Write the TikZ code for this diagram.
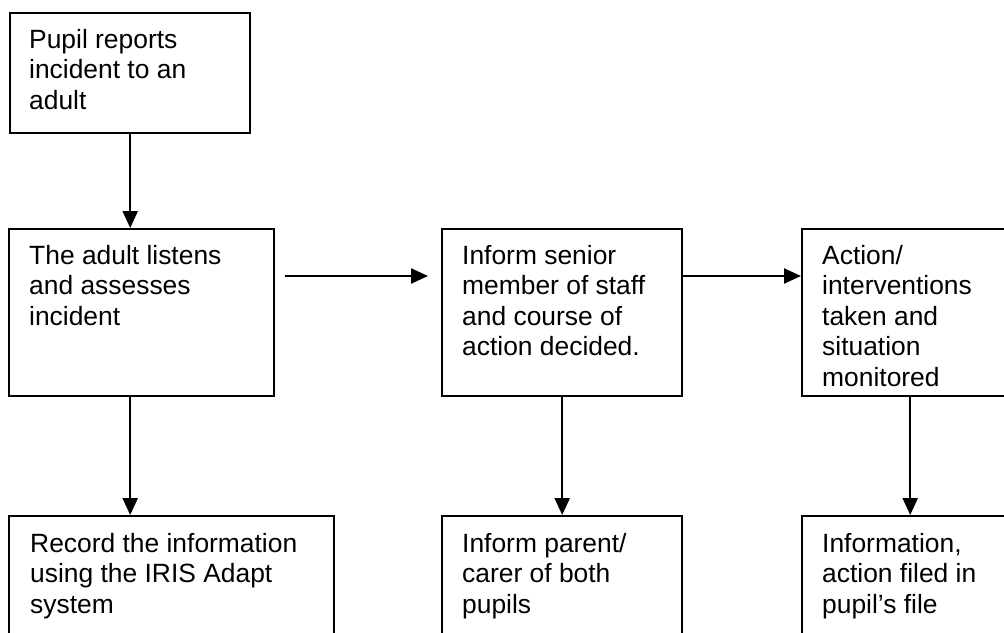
\documentclass[tikz,border=0pt]{standalone}
\usepackage{fontspec}
\setmainfont{Liberation Sans}
\usetikzlibrary{arrows.meta}
\begin{document}
\begin{tikzpicture}[x=1pt,y=-1pt,
  box/.style={draw=black,line width=2.4pt,inner sep=0pt,anchor=north west},
  lbl/.style={inner sep=0pt,anchor=north west,align=left,
    font=\fontsize{26.4}{30.5}\selectfont},
  conn/.style={line width=2.4pt,-{Triangle[length=17pt,width=15pt]}}]
\path[use as bounding box] (0,0) rectangle (1004,632);
\clip (0,0) rectangle (1004,632);
\fill[white] (0,0) rectangle (1004,632);
% boxes
\node[box,minimum width=240pt,minimum height=120pt] (b1) at (9,12) {};
\node[box,minimum width=265pt,minimum height=167pt] (b2) at (8,228) {};
\node[box,minimum width=240pt,minimum height=167pt] (b3) at (441,228) {};
\node[box,minimum width=216pt,minimum height=167pt] (b4) at (801,228) {};
\node[box,minimum width=325pt,minimum height=150pt] (b5) at (8,515) {};
\node[box,minimum width=240pt,minimum height=150pt] (b6) at (441,515) {};
\node[box,minimum width=216pt,minimum height=150pt] (b7) at (801,515) {};
% texts
\node[lbl] (t1) at ([xshift=20pt,yshift=-16pt]b1.north west) {\rule{0pt}{20pt}Pupil reports\\incident to an\\adult};
\node[lbl] (t2) at ([xshift=21pt,yshift=-16pt]b2.north west) {\rule{0pt}{20pt}The adult listens\\and assesses\\incident};
\node[lbl] (t3) at ([xshift=21pt,yshift=-16pt]b3.north west) {\rule{0pt}{20pt}Inform senior\\member of staff\\and course of\\action decided.};
\node[lbl] (t4) at ([xshift=21pt,yshift=-16pt]b4.north west) {\rule{0pt}{20pt}Action/\\interventions\\taken and\\situation\\monitored};
\node[lbl] (t5) at ([xshift=22pt,yshift=-17pt]b5.north west) {\rule{0pt}{20pt}Record the information\\using the IRIS Adapt\\system};
\node[lbl] (t6) at ([xshift=21pt,yshift=-17pt]b6.north west) {\rule{0pt}{20pt}Inform parent/\\carer of both\\pupils};
\node[lbl] (t7) at ([xshift=21pt,yshift=-17pt]b7.north west) {\rule{0pt}{20pt}Information,\\action filed in\\pupil’s file};
% connectors
\coordinate (a3s) at ([xshift=10pt,yshift=-48pt]b2.north east);
\coordinate (a3e) at ([xshift=-13pt,yshift=-48pt]b3.north west);
\draw[conn] (b1.south) -- (b1.south |- b2.north);
\draw[conn] (b1.south |- b2.south) -- (b1.south |- b5.north);
\draw[conn] (a3s) -- (a3e);
\draw[conn] ([yshift=-48pt]b3.north east) -- ([yshift=-48pt]b4.north west);
\draw[conn] (b3.south) -- (b6.north);
\draw[conn] (b4.south) -- (b7.north);
\end{tikzpicture}
\end{document}
